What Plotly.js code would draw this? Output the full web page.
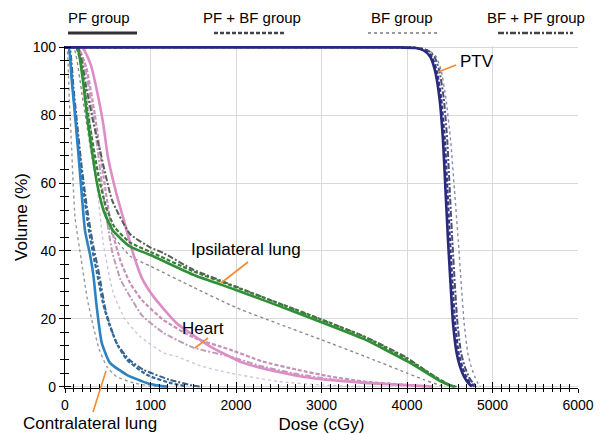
<!DOCTYPE html>
<html>
<head>
<meta charset="utf-8">
<script src="https://cdn.plot.ly/plotly-3.0.1.min.js"></script>
<style>html,body{margin:0;padding:0;background:#fff;}#chart{width:606px;height:434px;}</style>
</head>
<body>
<div id="chart"></div>
<script>
// ---------- DATA (dose in cGy, volume in %) ----------
var groups = ["PF group", "PF + BF group", "BF group", "BF + PF group"];
var xTickVals = [0, 1000, 2000, 3000, 4000, 5000, 6000];
var yTickVals = [0, 20, 40, 60, 80, 100];

// PTV
var ptvPF_dose   = [0, 3900, 4100, 4200, 4270, 4327, 4380, 4421, 4450, 4480, 4510, 4538, 4580, 4620, 4670, 4713, 4760];
var ptvPF_vol    = [100, 100, 99.8, 99, 97.3, 93.2, 85, 72.6, 58, 43, 30, 18.8, 10, 5.9, 2.8, 1.2, 0];
var ptvPFBF_dose = [0, 3900, 4120, 4220, 4290, 4347, 4400, 4443, 4473, 4503, 4533, 4562, 4603, 4645, 4695, 4738, 4790];
var ptvPFBF_vol  = [100, 100, 99.8, 99, 97.3, 93.2, 85, 72.6, 58, 43, 30, 18.8, 10, 5.9, 2.8, 1.2, 0];
var ptvBF_dose   = [0, 3900, 4150, 4260, 4340, 4400, 4455, 4510, 4555, 4600, 4635, 4668, 4710, 4750, 4795, 4825, 4860];
var ptvBF_vol    = [100, 100, 99.8, 99, 97.3, 93.2, 85, 72.6, 58, 43, 30, 18.8, 10, 5.9, 2.8, 1.2, 0];
var ptvBFPF_dose = [0, 3900, 4150, 4250, 4320, 4377, 4430, 4471, 4500, 4530, 4560, 4590, 4632, 4675, 4725, 4768, 4815];
var ptvBFPF_vol  = [100, 100, 99.8, 99, 97.3, 93.2, 85, 72.6, 58, 43, 30, 18.8, 10, 5.9, 2.8, 1.2, 0];

// Ipsilateral lung
var ipsiPF_dose   = [0, 140, 200, 257, 300, 374, 450, 560, 760, 1000, 1500, 2000, 2500, 3000, 3500, 4000, 4200, 4400, 4500, 4550];
var ipsiPF_vol    = [100, 100, 92, 80, 72, 60, 52, 46, 41.3, 38.8, 33, 28.5, 23.8, 19, 14, 7.5, 4.5, 1.5, 0.4, 0];
var ipsiPFBF_dose = [0, 130, 200, 260, 310, 400, 480, 580, 760, 1000, 1500, 2000, 2500, 3000, 3500, 4000, 4200, 4400, 4500, 4560];
var ipsiPFBF_vol  = [100, 100, 93, 82, 74, 61, 53, 47, 42.5, 39.7, 34, 29.3, 24.6, 19.8, 14.7, 8.2, 5, 1.8, 0.5, 0];
var ipsiBF_dose   = [0, 100, 200, 300, 400, 526, 760, 1000, 1500, 2000, 2500, 3000, 3500, 4000, 4200, 4400, 4450];
var ipsiBF_vol    = [100, 100, 86, 70, 57, 46, 38.5, 35.5, 29.3, 23.3, 18.5, 13.8, 9, 4, 2, 0.3, 0];
var ipsiBFPF_dose = [0, 150, 250, 330, 409, 550, 760, 1000, 1150, 1500, 2000, 2500, 3000, 3500, 4000, 4200, 4400, 4520, 4580];
var ipsiBFPF_vol  = [100, 100, 88, 78, 69.7, 55, 45, 41, 39.4, 34.5, 29.5, 24.5, 19.7, 14.8, 8.5, 5, 1.8, 0.3, 0];

// Heart
var heartPF_dose   = [0, 200, 300, 400, 450, 500, 600, 700, 800, 900, 1033, 1306, 1696, 2085, 2500, 2865, 3500, 4000, 4300];
var heartPF_vol    = [100, 100, 95, 84, 77, 68, 57, 48, 39, 32, 26.6, 18.7, 11.9, 7, 4.3, 2.6, 1.1, 0.5, 0];
var heartPFBF_dose = [0, 150, 250, 350, 450, 550, 650, 760, 900, 1150, 1500, 1930, 2300, 2710, 3100, 3500, 4000, 4200];
var heartPFBF_vol  = [100, 100, 94, 80, 62, 46, 37, 30.6, 25.5, 19.7, 14.5, 10.9, 7.5, 5, 3, 1.5, 0.5, 0];
var heartBF_dose   = [0, 150, 250, 350, 450, 564, 700, 877, 1150, 1306, 1600, 1930, 2500, 3000, 3500];
var heartBF_vol    = [100, 100, 88, 65, 42, 27.6, 20, 14.8, 10, 8.9, 6, 4, 1.5, 0.5, 0];
var heartBFPF_dose = [0, 150, 250, 350, 450, 550, 650, 760, 900, 1150, 1500, 1930, 2300, 2700, 3100, 3600, 4000];
var heartBFPF_vol  = [100, 100, 92, 76, 56, 40, 31.5, 26.6, 21, 15.9, 11.5, 8.9, 6, 3.8, 2.2, 1, 0.3];

// Contralateral lung
var contraPF_dose   = [0, 40, 80, 117, 152, 185, 234, 292, 331, 371, 429, 526, 722, 955, 1100, 1200];
var contraPF_vol    = [100, 100, 90, 80, 70, 60, 46, 39, 33, 23.5, 13, 7, 3.5, 1.1, 0.3, 0];
var contraPFBF_dose = [0, 40, 90, 130, 170, 220, 280, 330, 390, 450, 526, 620, 722, 955, 1228, 1400];
var contraPFBF_vol  = [100, 100, 88, 78, 68, 57, 46, 39, 31.5, 24, 17.7, 12, 8, 3.5, 1.1, 0.2];
var contraBF_dose   = [0, 20, 50, 78, 117, 190, 260, 331, 400, 488, 600, 800, 1000, 1100];
var contraBF_vol    = [100, 100, 85, 70, 50, 37.4, 26, 17.7, 11, 6, 3, 1.1, 0.2, 0];
var contraBFPF_dose = [0, 50, 100, 140, 190, 250, 320, 400, 480, 604, 750, 916, 1228, 1500, 1600];
var contraBFPF_vol  = [100, 100, 88, 78, 66, 54, 43, 33, 22, 12.8, 8, 5, 2, 0.3, 0];

// ---------- STYLES ----------
var FONT = "Liberation Sans, Arial, Helvetica, sans-serif";
var styles = {
  PF:   {dash: "solid",   width: 2.6},
  PFBF: {dash: "4px,2px", width: 2.2},
  BF:   {dash: "dot",     width: 1.4},
  BFPF: {dash: "6px,2px,2px,2px", width: 2}
};
var colors = {
  ptv:    {PF: "#2a2a7a", PFBF: "#34348a", BF: "#8c8ca8", BFPF: "#4c4c78"},
  ipsi:   {PF: "#2f8f35", PFBF: "#3d7a3d", BF: "#8a8a8a", BFPF: "#556055"},
  heart:  {PF: "#dc8cc6", PFBF: "#c890b8", BF: "#cfc2e2", BFPF: "#bf9cb9"},
  contra: {PF: "#2c82c2", PFBF: "#2f6a9c", BF: "#9a9a9a", BFPF: "#3b5f86"}
};

var series = [
  ["ptv", "BF", ptvBF_dose, ptvBF_vol], ["ipsi", "BF", ipsiBF_dose, ipsiBF_vol],
  ["heart", "BF", heartBF_dose, heartBF_vol], ["contra", "BF", contraBF_dose, contraBF_vol],
  ["heart", "BFPF", heartBFPF_dose, heartBFPF_vol], ["heart", "PFBF", heartPFBF_dose, heartPFBF_vol],
  ["heart", "PF", heartPF_dose, heartPF_vol],
  ["contra", "BFPF", contraBFPF_dose, contraBFPF_vol], ["contra", "PFBF", contraPFBF_dose, contraPFBF_vol],
  ["contra", "PF", contraPF_dose, contraPF_vol],
  ["ipsi", "BFPF", ipsiBFPF_dose, ipsiBFPF_vol], ["ipsi", "PFBF", ipsiPFBF_dose, ipsiPFBF_vol],
  ["ipsi", "PF", ipsiPF_dose, ipsiPF_vol],
  ["ptv", "BFPF", ptvBFPF_dose, ptvBFPF_vol], ["ptv", "PFBF", ptvPFBF_dose, ptvPFBF_vol],
  ["ptv", "PF", ptvPF_dose, ptvPF_vol]
];

var traces = series.map(function (s) {
  return {
    type: "scatter", mode: "lines", x: s[2], y: s[3], showlegend: false, hoverinfo: "skip",
    line: {color: colors[s[0]][s[1]], width: styles[s[1]].width, dash: styles[s[1]].dash, shape: "spline", smoothing: 0.5}
  };
});
// helper trace so the overlay axes (inner half of crossing ticks) are drawn
traces.push({type: "scatter", mode: "lines", x: [null], y: [null], xaxis: "x2", yaxis: "y2", showlegend: false, hoverinfo: "skip"});

// pixel -> paper helpers (plot area 65..578 x 46..388)
var L = 65, R = 578, T = 46, B = 388;
function px(x) { return (x - L) / (R - L); }
function py(y) { return (B - y) / (B - T); }

var orange = "#f28a2e";
var shapes = [
  {type: "line", xref: "paper", yref: "paper", x0: px(438), y0: py(72), x1: px(456), y1: py(65), line: {color: orange, width: 1.6}},
  {type: "line", xref: "paper", yref: "paper", x0: px(221), y0: py(283), x1: px(248), y1: py(262), line: {color: orange, width: 1.6}},
  {type: "line", xref: "paper", yref: "paper", x0: px(195), y0: py(348), x1: px(208), y1: py(338), line: {color: orange, width: 1.6}},
  {type: "line", xref: "paper", yref: "paper", x0: px(106), y0: py(371), x1: px(93), y1: py(412), line: {color: orange, width: 1.6}},
  // legend samples
  {type: "line", xref: "paper", yref: "paper", x0: px(68), y0: py(33), x1: px(137), y1: py(33), line: {color: "#333", width: 3}},
  {type: "line", xref: "paper", yref: "paper", x0: px(214), y0: py(33), x1: px(284), y1: py(33), line: {color: "#444", width: 2.5, dash: "4px,2px"}},
  {type: "line", xref: "paper", yref: "paper", x0: px(368), y0: py(33), x1: px(440), y1: py(33), line: {color: "#9a9a9a", width: 2, dash: "dot"}},
  {type: "line", xref: "paper", yref: "paper", x0: px(498), y0: py(33), x1: px(573), y1: py(33), line: {color: "#444", width: 2.5, dash: "6px,2px,2px,2px"}}
];

function ann(text, x, y, size) {
  return {text: text, xref: "paper", yref: "paper", x: px(x), y: py(y), showarrow: false,
          xanchor: "center", yanchor: "middle", font: {family: FONT, size: size, color: "#000"}};
}
var annotations = [
  ann("PTV", 477, 61, 17),
  ann("Ipsilateral lung", 246, 249, 17),
  ann("Heart", 203, 328, 17),
  ann("Contralateral lung", 90, 423, 17),
  ann(groups[0], 99, 18, 15),
  ann(groups[1], 252, 18, 15),
  ann(groups[2], 402, 18, 15),
  ann(groups[3], 536, 18, 15)
];

var axisCommon = {showline: true, linecolor: "#000", linewidth: 1.2, tickcolor: "#000", zeroline: false,
                  tickfont: {family: FONT, size: 14, color: "#000"}, gridcolor: "#d9d9d9", gridwidth: 1};

var layout = {
  width: 606, height: 434,
  margin: {l: L, r: 606 - R, t: T, b: 434 - B},
  paper_bgcolor: "#fff", plot_bgcolor: "#fff",
  font: {family: FONT, color: "#000"},
  showlegend: false,
  xaxis: Object.assign({}, axisCommon, {
    range: [0, 6000], tickvals: xTickVals, ticks: "outside", ticklen: 4, showgrid: true,
    minor: {dtick: 100, tick0: 0, ticks: "outside", ticklen: 3, tickcolor: "#000", showgrid: false},
    title: {text: "Dose (cGy)", font: {family: FONT, size: 17, color: "#000"}, standoff: 6}
  }),
  yaxis: Object.assign({}, axisCommon, {
    range: [-0.4, 100.4], tickvals: yTickVals, ticks: "outside", ticklen: 5, showgrid: true,
    minor: {dtick: 4, tick0: 0, ticks: "outside", ticklen: 4, tickcolor: "#000", showgrid: false},
    title: {text: "Volume (%)", font: {family: FONT, size: 17, color: "#000"}, standoff: 0}
  }),
  xaxis2: {overlaying: "x", anchor: "y2", side: "bottom", range: [0, 6000], tickvals: xTickVals, ticks: "inside", ticklen: 6,
           tickcolor: "#000", showticklabels: false, showgrid: false, showline: false, zeroline: false,
           minor: {dtick: 100, tick0: 0, ticks: "inside", ticklen: 4, tickcolor: "#000", showgrid: false}},
  yaxis2: {overlaying: "y", anchor: "x2", side: "left", range: [-0.4, 100.4], tickvals: yTickVals, ticks: "inside", ticklen: 6,
           tickcolor: "#000", showticklabels: false, showgrid: false, showline: false, zeroline: false,
           minor: {dtick: 4, tick0: 0, ticks: "inside", ticklen: 4, tickcolor: "#000", showgrid: false}},
  shapes: shapes,
  annotations: annotations
};

Plotly.newPlot("chart", traces, layout, {displayModeBar: false, staticPlot: true});
</script>
</body>
</html>
